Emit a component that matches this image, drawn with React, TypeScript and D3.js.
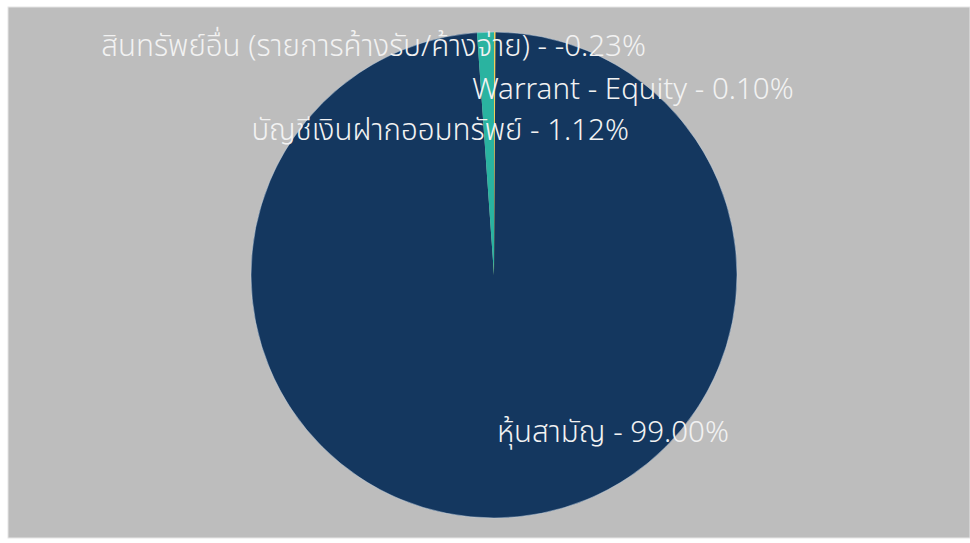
import React from "react";
import * as d3 from "d3";

const categories = [
  "Warrant - Equity",
  "หุ้นสามัญ",
  "บัญชีเงินฝากออมทรัพย์",
  "สินทรัพย์อื่น (รายการค้างรับ/ค้างจ่าย)",
];
const values = [0.1, 99.0, 1.12, -0.23];
const colors = ["#f2cf5b", "#14375f", "#2ab3a0", "#8f4f9f"];

// label layout: anchor and offset from the pie centre (fractions of radius)
const labelAnchors = ["start", "start", "end", "end"];
const labelOffsets: [number, number][] = [
  [-0.09, -0.77],
  [null as any, null as any],
  [0.555, -0.605],
  [0.625, -0.95],
];

const W = 970;
const H = 543;

export default function App() {
  const cx = 494;
  const cy = 275;
  const r = 243;
  const data = categories.map((c, i) => ({ name: c, value: values[i], color: colors[i] }));
  const pie = d3
    .pie<any>()
    .sort(null)
    .value((d) => Math.max(0, d.value));
  const arcs = pie(data);
  const arc = d3.arc<any>().innerRadius(0).outerRadius(r);
  const fmt = (v: number) => v.toFixed(2) + "%";
  const font = "'Segoe UI', 'Noto Sans', 'Noto Sans Thai', Tahoma, sans-serif";

  return (
    <svg
      width={W}
      height={H}
      style={{ position: "absolute", left: 0, top: 0, background: "#ffffff" }}
    >
      <rect x={8} y={7} width={W - 8} height={531} fill="#bdbdbd" stroke="#e6e6e6" strokeWidth={1} />
      <g transform={`translate(${cx},${cy})`}>
        {arcs.map((a, i) =>
          a.endAngle - a.startAngle > 0 ? (
            <path
              key={i}
              d={arc(a) as string}
              fill={a.data.color}
              stroke={i === 0 ? a.data.color : "none"}
              strokeWidth={1}
            />
          ) : null
        )}
        <circle r={r} fill="none" stroke="#c9d6e6" strokeWidth={0.8} strokeOpacity={0.6} />
        {arcs.map((a, i) => {
          let x: number, y: number;
          if (labelOffsets[i][0] === null) {
            const mid = (a.startAngle + a.endAngle) / 2;
            x = Math.sin(mid) * r * 0.64 - 2;
            y = -Math.cos(mid) * r * 0.64;
          } else {
            x = labelOffsets[i][0] * r;
            y = labelOffsets[i][1] * r;
          }
          return (
            <text
              key={"l" + i}
              x={x}
              y={y}
              textAnchor={labelAnchors[i] as any}
              dominantBaseline="central"
              fontFamily={font}
              fontSize={29.5}
              fontWeight={300}
              fill="#f2f2f2"
            >
              {a.data.name} - {fmt(a.data.value)}
            </text>
          );
        })}
      </g>
    </svg>
  );
}
